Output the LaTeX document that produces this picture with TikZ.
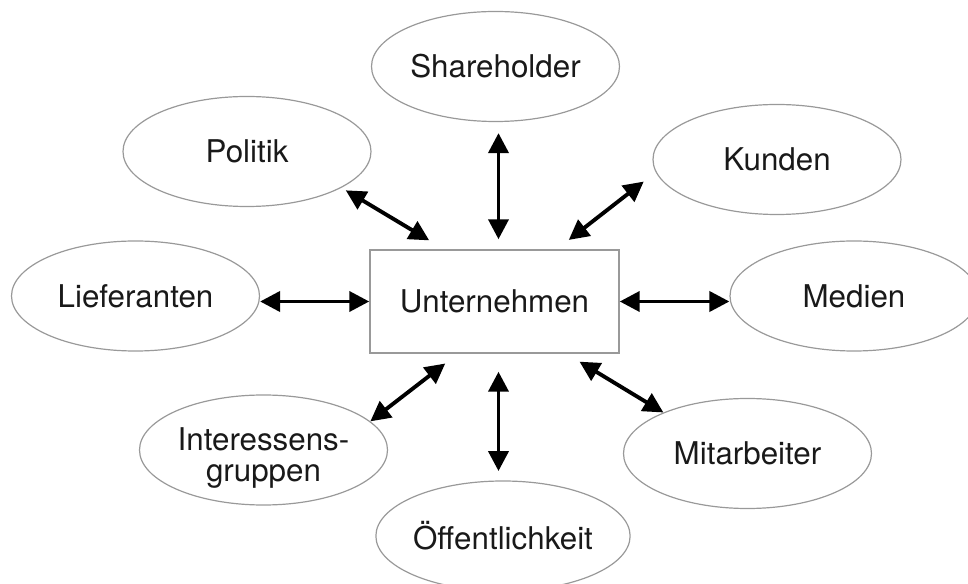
\documentclass[tikz,border=0pt]{standalone}
\usepackage{fontspec}
\setmainfont{TeX Gyre Heros}
\usetikzlibrary{arrows.meta,calc,positioning,shapes.geometric}

\begin{document}
\begin{tikzpicture}[x=0.75pt,y=-0.75pt,
        stake/.style={draw=black!40,line width=0.9pt,ellipse,minimum width=186pt,minimum height=82.5pt,inner sep=0pt,
            align=center,text=black!90,font=\fontsize{23.5}{23}\selectfont},
        firmbox/.style={draw=black!40,line width=1.1pt,rectangle,minimum width=186.75pt,minimum height=77.25pt,
            text=black!90,font=\fontsize{23.5}{24}\selectfont},
        link/.style={line width=2.9pt,{Triangle[length=15pt,width=15pt]}-{Triangle[length=15pt,width=15pt]}}]
            \useasboundingbox (0,0) rectangle (968,584);
            \node[firmbox] (firm) at (494.5,301.5) {Unternehmen};
            \foreach \n/\x/\y/\t in {share/495.5/66.5/Shareholder, politik/247/151.5/Politik,
                    kunden/777/159.5/Kunden, lief/135.5/296/Lieferanten, medien/854/296/Medien,
                    interest/263.5/450/{\rule{0pt}{29pt}Interessens-\\gruppen}, mitarb/747.5/453.5/Mitarbeiter,
                    oeff/503/536/Öffentlichkeit}{
                    \node[stake] (\n) at (\x,\y) {\t};}
            \draw[link,shorten <=7.5pt,shorten >=8.25pt] ([xshift=3pt]firm.north) -- ([xshift=3pt]firm.north |- share.south);
            \draw[link,shorten <=13pt,shorten >=3.75pt] (firm.134) -- (politik.-21);
            \draw[link,shorten <=11.4pt,shorten >=11.4pt] (firm.40) -- (kunden.186);
            \draw[link] (firm.west) -- (lief.east |- firm.west);
            \draw[link] (firm.east) -- (medien.west |- firm.east);
            \draw[link,shorten <=12pt] (firm.235.7) -- (interest.15.6);
            \draw[link,shorten <=11.5pt] (firm.-36.2) -- (mitarb.154);
            \draw[link,shorten <=13.5pt,shorten >=7pt] ([xshift=3pt]firm.south) -- ([xshift=3pt]firm.south |- oeff.north);
        \end{tikzpicture}
\end{document}
